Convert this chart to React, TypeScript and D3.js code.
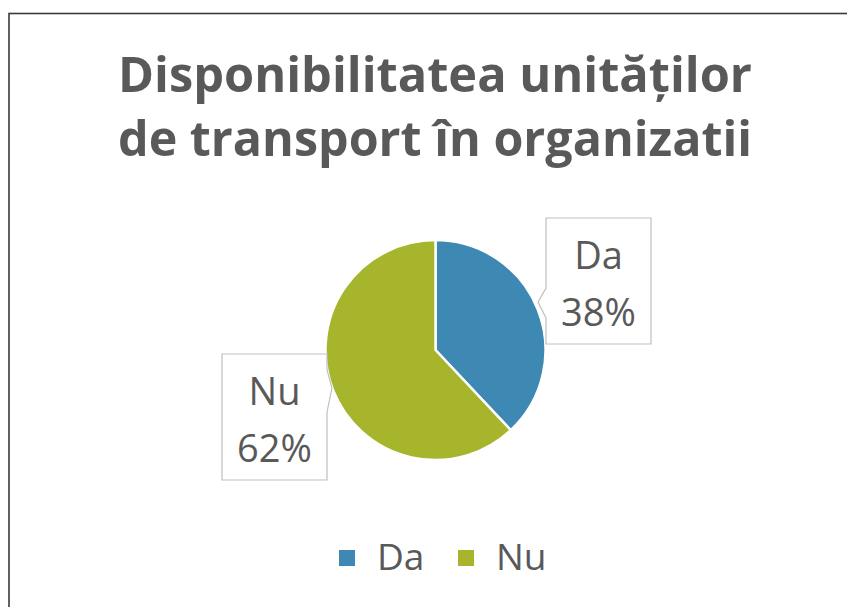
import React from "react";
import * as d3 from "d3";

const categories = ["Da", "Nu"];
const values = [38, 62];
const colors = ["#3E88B4", "#A6B52B"];
const titleLines = ["Disponibilitatea unităților", "de transport în organizatii"];

const W = 847;
const H = 607;

export default function App() {
  const cx = 435.5;
  const cy = 350;
  const r = 110;
  const pie = d3.pie<number>().sort(null).value((d) => d)(values);
  const arc = d3.arc<d3.PieArcDatum<number>>().innerRadius(0).outerRadius(r);
  const total = d3.sum(values);
  const fmt = (v: number) => `${Math.round((v / total) * 100)}%`;

  // label boxes: [x, y, w, h], notch side
  const boxes = [
    { x: 546, y: 218, w: 105, h: 126, side: "left", n0: 288, n1: 318, tip: [538, 302] },
    { x: 222, y: 354, w: 105, h: 126, side: "right", n0: 370, n1: 412, tip: [332, 388] },
  ];

  const calloutPath = (b: any) => {
    const p = d3.path();
    const x0 = b.x, y0 = b.y, x1 = b.x + b.w, y1 = b.y + b.h;
    p.moveTo(x0, y0);
    p.lineTo(x1, y0);
    if (b.side === "right") {
      p.lineTo(x1, b.n0);
      p.lineTo(b.tip[0], b.tip[1]);
      p.lineTo(x1, b.n1);
    }
    p.lineTo(x1, y1);
    p.lineTo(x0, y1);
    if (b.side === "left") {
      p.lineTo(x0, b.n1);
      p.lineTo(b.tip[0], b.tip[1]);
      p.lineTo(x0, b.n0);
    }
    p.closePath();
    return p.toString();
  };

  const legendItems = [
    { sx: 339, tx: 377 },
    { sx: 458, tx: 496 },
  ];

  return (
    <svg
      width={W}
      height={H}
      style={{ position: "absolute", left: 0, top: 0, background: "#fff" }}
      fontFamily="'Open Sans', 'Noto Sans', sans-serif"
    >
      <rect x={0} y={0} width={W} height={H} fill="#fff" />
      <rect x={9} y={13.5} width={900} height={700} fill="#fff" stroke="#3a3a3a" strokeWidth={1.6} />
      {titleLines.map((t, i) => (
        <text
          key={i}
          x={435}
          y={92 + i * 64}
          textAnchor="middle"
          fontSize={48}
          fontWeight={700}
          fill="#595959"
          textLength={634}
          lengthAdjust="spacingAndGlyphs"
        >
          {t}
        </text>
      ))}
      <g transform={`translate(${cx},${cy})`}>
        {pie.map((d, i) => (
          <path key={i} d={arc(d) || ""} fill={colors[i]} stroke="#fff" strokeWidth={2.5} strokeLinejoin="round" />
        ))}
      </g>
      {boxes.map((b, i) => (
        <g key={i}>
          <path d={calloutPath(b)} fill="#fff" stroke="#BFBFBF" strokeWidth={1.2} />
          <text x={b.x + b.w / 2} y={b.y + b.h / 2 - 12} textAnchor="middle" fontSize={38} fill="#595959">
            {categories[i]}
          </text>
          <text x={b.x + b.w / 2} y={b.y + b.h / 2 + 45} textAnchor="middle" fontSize={38} fill="#595959">
            {fmt(values[i])}
          </text>
        </g>
      ))}
      {legendItems.map((l, i) => (
        <g key={i}>
          <rect x={l.sx} y={550} width={16} height={16} fill={colors[i]} />
          <text x={l.tx} y={570} fontSize={37} fill="#595959">
            {categories[i]}
          </text>
        </g>
      ))}
    </svg>
  );
}
